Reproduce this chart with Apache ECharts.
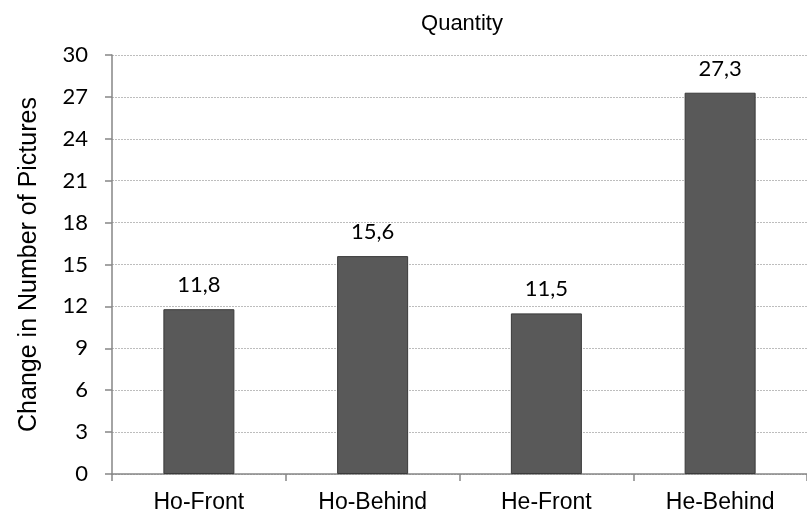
<!DOCTYPE html>
<html>
<head>
<meta charset="utf-8">
<script src="https://cdn.jsdelivr.net/npm/echarts@6/dist/echarts.min.js"></script>
<style>
  html, body { margin: 0; padding: 0; background: #fff; }
  #chart { width: 807px; height: 529px; }
</style>
</head>
<body>
<div id="chart"></div>
<script>
// Categories and their change values
const categories = ['Ho-Front', 'Ho-Behind', 'He-Front', 'He-Behind'];
const changeValues = [11.8, 15.6, 11.5, 27.3];
const yTicks = { min: 0, max: 30, interval: 3 };

const chart = echarts.init(document.getElementById('chart'));
chart.setOption({
  animation: false,
  backgroundColor: '#ffffff',
  title: {
    text: 'Quantity',
    left: 457,
    top: 8,
    textAlign: 'center',
    textStyle: { fontFamily: 'Liberation Sans', fontSize: 22, fontWeight: 'normal', color: '#000' }
  },
  grid: { left: 112, top: 55, width: 705, bottom: 55 },
  xAxis: {
    type: 'category',
    data: categories,
    axisLine: { lineStyle: { color: '#868686', width: 1.5 } },
    axisTick: { show: true, alignWithLabel: false, length: 7, lineStyle: { color: '#868686', width: 1.5 } },
    axisLabel: { fontFamily: 'Liberation Sans', fontSize: 23, color: '#000', margin: 17 }
  },
  yAxis: {
    type: 'value',
    min: yTicks.min,
    max: yTicks.max,
    interval: yTicks.interval,
    name: 'Change in Number of Pictures',
    nameLocation: 'middle',
    nameGap: 70,
    nameTextStyle: { fontFamily: 'Liberation Sans', fontSize: 25, color: '#000' },
    axisLine: { show: true, lineStyle: { color: '#868686', width: 1.5 } },
    axisTick: { show: true, length: 7, lineStyle: { color: '#868686', width: 1.5 } },
    axisLabel: { fontFamily: 'Lato', fontSize: 22, color: '#000', margin: 24 },
    splitLine: { show: true, lineStyle: { color: '#bdbdbd', type: [2, 1], width: 1 } }
  },
  series: [{
    type: 'bar',
    data: changeValues,
    barWidth: 71,
    itemStyle: { color: '#595959', borderColor: '#3a3a3a', borderWidth: 1 },
    label: {
      show: true,
      position: 'top',
      distance: 13,
      fontFamily: 'Lato',
      fontSize: 22,
      color: '#000',
      formatter: p => String(p.value).replace('.', ',')
    }
  }]
});
</script>
</body>
</html>
